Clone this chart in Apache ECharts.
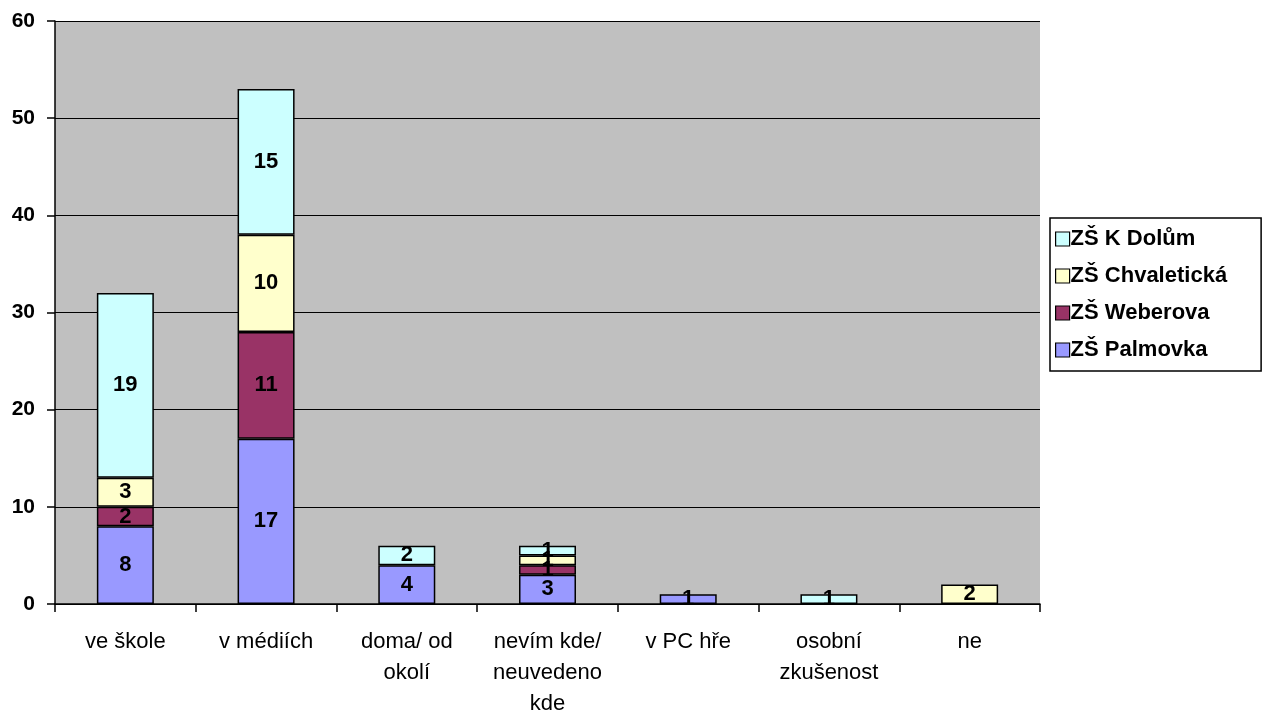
<!DOCTYPE html>
<html><head><meta charset="utf-8">
<script src="https://cdn.jsdelivr.net/npm/echarts@6/dist/echarts.min.js"></script>
<style>html,body{margin:0;padding:0;background:#fff}#c{width:1263px;height:710px}</style>
</head><body><div id="c"></div>
<script>
const categories = ['ve škole','v médiích','doma/ od\nokolí','nevím kde/\nneuvedeno\nkde','v PC hře','osobní\nzkušenost','ne'];
const palmovka = [8,17,4,3,1,0,0];
const weberova = [2,11,0,1,0,0,0];
const chvaleticka = [3,10,0,1,0,0,2];
const kDolum = [19,15,2,1,0,1,0];
const yTicks = [0,10,20,30,40,50,60];

const font = 'Arial, "Liberation Sans", sans-serif';
function mk(name, data, color){
  return {
    name, type:'bar', stack:'s', data: data.map(v => v === 0 ? null : v),
    barWidth:'40.5%',
    itemStyle:{color, borderColor:'#000', borderWidth:1.5},
    label:{show:true, position:'inside', color:'#000', fontWeight:'bold', fontSize:22, fontFamily:font},
    emphasis:{disabled:true}
  };
}
const chart = echarts.init(document.getElementById('c'), null, {renderer:'canvas'});
chart.setOption({
  animation:false,
  backgroundColor:'#fff',
  grid:{left:55, right:223, top:21, bottom:106, show:true, backgroundColor:'#C0C0C0', borderWidth:0, outerBoundsMode:'none', containLabel:false},
  legend:{
    left:1050, top:218, orient:'vertical', itemGap:15, itemWidth:14, itemHeight:14,
    padding:[10,34,10,5], backgroundColor:'#fff', borderColor:'#000', borderWidth:1.5, borderRadius:0,
    data:['ZŠ K Dolům','ZŠ Chvaletická','ZŠ Weberova','ZŠ Palmovka'],
    textStyle:{fontFamily:font, fontWeight:'bold', fontSize:22, color:'#000', padding:[0,0,0,-4]},
    icon:'rect',
    itemStyle:{borderColor:'#000', borderWidth:1.2}
  },
  xAxis:{
    type:'category', data:categories,
    axisLine:{lineStyle:{color:'#000', width:1.5}},
    axisTick:{show:true, alignWithLabel:false, length:8, lineStyle:{color:'#000', width:1.5}},
    axisLabel:{interval:0, color:'#000', fontFamily:font, fontSize:22, lineHeight:31, margin:22}
  },
  yAxis:{
    type:'value', min:yTicks[0], max:yTicks[yTicks.length-1], interval:10,
    axisLine:{show:true, lineStyle:{color:'#000', width:1.5}},
    axisTick:{show:true, length:8, lineStyle:{color:'#000', width:1.5}},
    axisLabel:{color:'#000', fontFamily:font, fontSize:21, fontWeight:'bold', margin:20},
    splitLine:{show:true, lineStyle:{color:'#000', width:1.2}}
  },
  series:[
    mk('ZŠ Palmovka', palmovka, '#9999FF'),
    mk('ZŠ Weberova', weberova, '#993366'),
    mk('ZŠ Chvaletická', chvaleticka, '#FFFFCC'),
    mk('ZŠ K Dolům', kDolum, '#CCFFFF')
  ]
});
</script></body></html>
